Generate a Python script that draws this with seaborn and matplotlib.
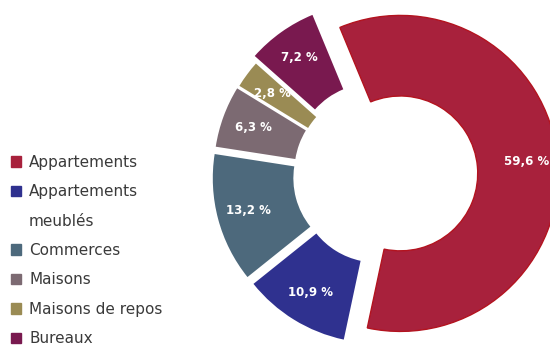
import matplotlib
matplotlib.use("Agg")
import matplotlib.pyplot as plt
import matplotlib.patches as mpatches
import seaborn as sns

# Portfolio breakdown by asset type (%)
categories = ["Appartements", "Appartements meublés", "Commerces", "Maisons",
              "Maisons de repos", "Bureaux"]
values = [59.6, 10.9, 13.2, 6.3, 2.8, 7.2]
colors = ["#a8213c", "#2f318f", "#4d697c", "#7c6a72", "#9a8b54", "#79194f"]
explode = [0.11, 0.075, 0.08, 0.075, 0.07, 0.11]
legend_labels = ["Appartements", "Appartements", "meublés", "Commerces", "Maisons",
                 "Maisons de repos", "Bureaux"]

sns.set_theme(style="white")
plt.rcParams["font.family"] = ["DejaVu Sans"]

W, H = 550, 346
fig = plt.figure(figsize=(W / 100, H / 100), dpi=100)

# pie axes placed in pixel units: centre and outer radius
cx, cy, R = 383, 175, 158
L = 1.3
side = 2 * L * R
ax = fig.add_axes([(cx - side / 2) / W, ((H - cy) - side / 2) / H, side / W, side / H])

def fmt(p):
    return f"{p:.1f} %".replace(".", ",")

wedges, texts, autotexts = ax.pie(
    values,
    colors=colors,
    explode=explode,
    startangle=112.5,
    counterclock=False,
    radius=1.0,
    autopct=fmt,
    pctdistance=0.8,
    wedgeprops=dict(width=0.51, linewidth=0),
    textprops=dict(color="white", fontsize=8.5, fontweight="bold"),
)
wedges[0].set_edgecolor("#b3131f")
wedges[0].set_linewidth(1.0)
ax.set_xlim(-L, L)
ax.set_ylim(-L, L)
ax.axis("off")

# legend with the second label wrapped onto a handle-less line
handles = [mpatches.Patch(color=colors[0]), mpatches.Patch(color=colors[1]),
           mpatches.Patch(color="none"), mpatches.Patch(color=colors[2]),
           mpatches.Patch(color=colors[3]), mpatches.Patch(color=colors[4]),
           mpatches.Patch(color=colors[5])]
leg = fig.legend(
    handles, legend_labels,
    loc="upper left",
    bbox_to_anchor=(11 / W, (H - 155) / H),
    frameon=False,
    fontsize=11,
    labelcolor="#3a3a3a",
    handlelength=0.68,
    handleheight=0.68,
    handletextpad=0.5,
    labelspacing=0.94,
    borderpad=0,
    borderaxespad=0,
)

fig.savefig("out.png", dpi=100)
